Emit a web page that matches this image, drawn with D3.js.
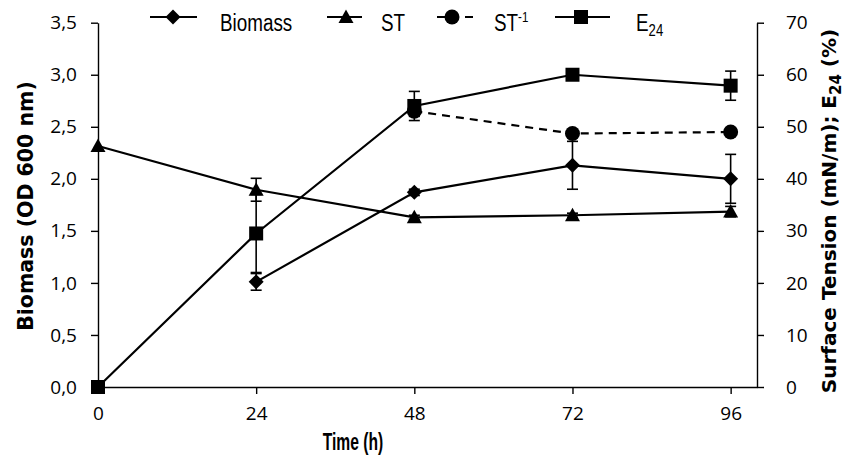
<!DOCTYPE html>
<html>
<head>
<meta charset="utf-8">
<script src="https://cdn.jsdelivr.net/npm/d3@7"></script>
<style>
  body { margin: 0; background: #fff; }
  svg { display: block; }
</style>
</head>
<body>
<script>
// valores
var time = [0, 24, 48, 72, 96];
var biomass = [null, 1.01, 1.87, 2.13, 2.00];
var biomassErr = [0, 0.08, 0.03, 0.23, 0.235];
var st = [46.3, 37.9, 32.6, 33.0, 33.7];
var stErr = [0, 2.2, 0.4, 0.4, 1.0];
var stInv = [null, null, 53.0, 48.7, 49.0];
var stInvErr = [0, 0, 1.0, 0, 0];
var e24 = [0, 29.5, 54.0, 60.0, 57.9];
var e24Err = [0, 7.5, 2.8, 0.3, 2.8];

var xTicks = [0, 24, 48, 72, 96];
var leftTicks = [0, 0.5, 1, 1.5, 2, 2.5, 3, 3.5];
var rightTicks = [0, 10, 20, 30, 40, 50, 60, 70];

var width = 847, height = 473;
var plotLeft = 98, plotRight = 757, plotTop = 22.7, plotBottom = 387;

var svg = d3.select("body").append("svg")
  .attr("width", width).attr("height", height);

var x = d3.scaleLinear().domain([0, 100]).range([plotLeft, plotRight]);
var yL = d3.scaleLinear().domain([0, 3.5]).range([plotBottom, plotTop]);
var yR = d3.scaleLinear().domain([0, 70]).range([plotBottom, plotTop]);

var tickFont = "'Open Sans', sans-serif";
var comma = function (d) { return d3.format(".1f")(d).replace(".", ","); };

// eixos
var gx = svg.append("g").attr("transform", "translate(0," + plotBottom + ")")
  .call(d3.axisBottom(x).tickValues(xTicks).tickSize(7).tickSizeOuter(0).tickPadding(13));
var gl = svg.append("g").attr("transform", "translate(" + plotLeft + ",0)")
  .call(d3.axisLeft(yL).tickValues(leftTicks).tickFormat(comma).tickSize(7).tickSizeOuter(0).tickPadding(14));
var gr = svg.append("g").attr("transform", "translate(" + plotRight + ",0)")
  .call(d3.axisRight(yR).tickValues(rightTicks).tickSize(7).tickSizeOuter(0).tickPadding(22));

[gx, gl, gr].forEach(function (g) {
  g.selectAll("path, line").attr("stroke", "#000").attr("stroke-width", 1.4);
  g.selectAll("text").attr("fill", "#000").style("font-family", tickFont).style("font-size", "19px");
});

// marcadores
function marker(g, type, cx, cy) {
  if (type == "diamond") {
    g.append("path").attr("d", "M" + cx + "," + (cy - 7.5) + "L" + (cx + 7.5) + "," + cy + "L" + cx + "," + (cy + 7.5) + "L" + (cx - 7.5) + "," + cy + "Z");
  } else if (type == "triangle") {
    g.append("path").attr("d", "M" + cx + "," + (cy - 7.5) + "L" + (cx + 7.5) + "," + (cy + 6) + "L" + (cx - 7.5) + "," + (cy + 6) + "Z");
  } else if (type == "circle") {
    g.append("circle").attr("cx", cx).attr("cy", cy).attr("r", 7.5);
  } else {
    g.append("rect").attr("x", cx - 7).attr("y", cy - 7).attr("width", 14).attr("height", 14);
  }
}

var series = [
  { name: "Biomass", vals: biomass, err: biomassErr, y: yL, type: "diamond", dash: null },
  { name: "ST", vals: st, err: stErr, y: yR, type: "triangle", dash: null },
  { name: "ST-1", vals: stInv, err: stInvErr, y: yR, type: "circle", dash: "8,6" },
  { name: "E24", vals: e24, err: e24Err, y: yR, type: "square", dash: null }
];

series.forEach(function (s) {
  var pts = time.map(function (t, i) { return { t: t, v: s.vals[i], e: s.err[i] }; })
    .filter(function (p) { return p.v != null; });
  var g = svg.append("g");
  var line = d3.line().x(function (p) { return x(p.t); }).y(function (p) { return s.y(p.v); });
  g.append("path").datum(pts).attr("d", line)
    .attr("fill", "none").attr("stroke", "#000").attr("stroke-width", 2.2)
    .attr("stroke-dasharray", s.dash);
  // barras de erro
  pts.filter(function (p) { return p.e > 0; }).forEach(function (p) {
    var cx = x(p.t), y1 = s.y(p.v + p.e), y2 = s.y(p.v - p.e);
    g.append("line").attr("x1", cx).attr("x2", cx).attr("y1", y1).attr("y2", y2)
      .attr("stroke", "#000").attr("stroke-width", 1.6);
    [y1, y2].forEach(function (yy) {
      g.append("line").attr("x1", cx - 5.5).attr("x2", cx + 5.5).attr("y1", yy).attr("y2", yy)
        .attr("stroke", "#000").attr("stroke-width", 1.6);
    });
  });
  pts.forEach(function (p) { marker(g, s.type, x(p.t), s.y(p.v)); });
});

// legenda (fonte condensada: escala horizontal)
var legFont = "'Liberation Sans', sans-serif";
var legend = [
  { x0: 150, x1: 197, mx: 173, tx: 220, type: "diamond", dash: null },
  { x0: 327, x1: 362, mx: 346, tx: 381, type: "triangle", dash: null },
  { x0: 437, x1: 478, mx: 452, tx: 494, type: "circle", dash: "8,6" },
  { x0: 555, x1: 610, mx: 581, tx: 636, type: "square", dash: null }
];
var ly = 17;
legend.forEach(function (l, i) {
  var g = svg.append("g");
  g.append("line").attr("x1", l.x0).attr("x2", l.x1).attr("y1", ly).attr("y2", ly)
    .attr("stroke", "#000").attr("stroke-width", 2.2).attr("stroke-dasharray", l.dash);
  marker(g, l.type, l.mx, ly);
  var t = g.append("text").attr("transform", "translate(" + l.tx + "," + (ly + 14) + ") scale(0.82,1)")
    .style("font-family", legFont).style("font-size", "23px");
  if (i == 0) t.text("Biomass");
  if (i == 1) t.text("ST");
  if (i == 2) { t.append("tspan").text("ST"); t.append("tspan").attr("dy", -9).style("font-size", "14px").text("-1"); }
  if (i == 3) { t.append("tspan").text("E"); t.append("tspan").attr("dy", 5).style("font-size", "16px").text("24"); }
});

// títulos
var titleFont = "'DejaVu Sans', sans-serif";
svg.append("text").attr("transform", "translate(33,206) rotate(-90)")
  .attr("text-anchor", "middle").style("font-family", titleFont).style("font-weight", "bold").style("font-size", "20.5px")
  .text("Biomass (OD 600 nm)");
var rt = svg.append("text").attr("transform", "translate(836,211) rotate(-90)")
  .attr("text-anchor", "middle").style("font-family", titleFont).style("font-weight", "bold").style("font-size", "20px");
rt.append("tspan").text("Surface Tension (mN/m); E");
rt.append("tspan").attr("dy", 5).style("font-size", "15px").text("24");
rt.append("tspan").attr("dy", -5).text(" (%)");
svg.append("text").attr("transform", "translate(353,450) scale(0.68,1)").attr("text-anchor", "middle")
  .style("font-family", legFont).style("font-weight", "bold").style("font-size", "23px")
  .text("Time (h)");
</script>
</body>
</html>
